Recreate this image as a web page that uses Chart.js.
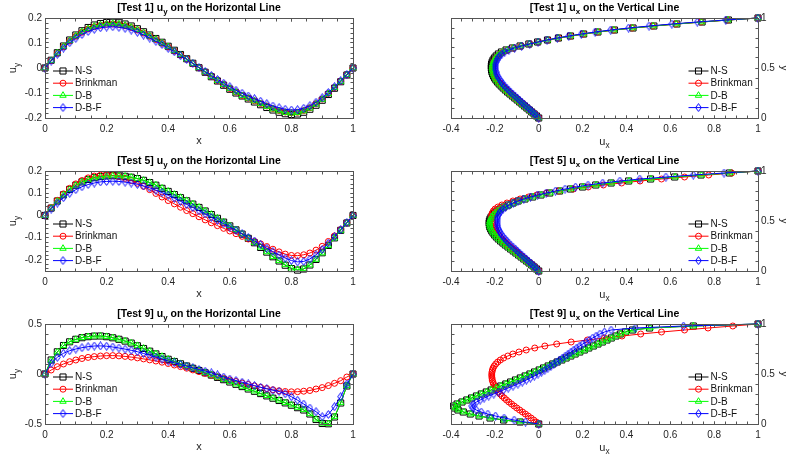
<!DOCTYPE html>
<html>
<head>
<meta charset="utf-8">
<script src="https://cdn.jsdelivr.net/npm/chart.js@4.4.1/dist/chart.umd.min.js"></script>
<style>
  html, body { margin: 0; padding: 0; background: #ffffff; }
  #wrap { position: relative; width: 786px; height: 459px; overflow: hidden; }
  #wrap canvas { position: absolute; }
</style>
</head>
<body>
<div id="wrap"></div>
<script>
// Sampling stations along the centre lines (x on the horizontal line, y on the vertical line)
const stations = [0,0.02,0.04,0.06,0.08,0.1,0.12,0.14,0.16,0.18,0.2,0.22,0.24,0.26,0.28,0.3,0.32,0.34,0.36,0.38,0.4,0.42,0.44,0.46,0.48,0.5,0.52,0.54,0.56,0.58,0.6,0.62,0.64,0.66,0.68,0.7,0.72,0.74,0.76,0.78,0.8,0.82,0.84,0.86,0.88,0.9,0.92,0.94,0.96,0.98,1];

const modelNames = ['N-S', 'Brinkman', 'D-B', 'D-B-F'];

// ---- Test 1: u_y on the horizontal line ----
const t1UyNS = [0,0.031,0.061,0.088,0.112,0.132,0.149,0.162,0.172,0.178,0.182,0.183,0.181,0.176,0.168,0.157,0.145,0.132,0.118,0.103,0.087,0.071,0.054,0.037,0.019,0.001,-0.017,-0.035,-0.052,-0.069,-0.085,-0.100,-0.112,-0.124,-0.136,-0.147,-0.158,-0.168,-0.177,-0.183,-0.186,-0.184,-0.177,-0.165,-0.149,-0.129,-0.106,-0.081,-0.055,-0.028,0];
const t1UyBrink = [0,0.030,0.059,0.085,0.108,0.127,0.143,0.156,0.165,0.171,0.175,0.176,0.174,0.169,0.162,0.152,0.140,0.127,0.114,0.099,0.084,0.068,0.052,0.036,0.018,0.001,-0.016,-0.033,-0.050,-0.066,-0.082,-0.096,-0.110,-0.120,-0.131,-0.142,-0.152,-0.162,-0.170,-0.176,-0.179,-0.177,-0.170,-0.159,-0.143,-0.124,-0.102,-0.078,-0.053,-0.027,0];
const t1UyDB = [0,0.030,0.060,0.086,0.109,0.128,0.145,0.157,0.167,0.173,0.177,0.178,0.176,0.171,0.163,0.153,0.141,0.128,0.115,0.100,0.085,0.069,0.053,0.036,0.018,0.001,-0.016,-0.034,-0.051,-0.067,-0.082,-0.097,-0.111,-0.121,-0.132,-0.143,-0.154,-0.164,-0.172,-0.178,-0.181,-0.179,-0.172,-0.161,-0.145,-0.126,-0.103,-0.079,-0.054,-0.027,0];
const t1UyDBF = [0,0.028,0.055,0.080,0.101,0.119,0.134,0.146,0.155,0.161,0.164,0.165,0.163,0.159,0.152,0.143,0.132,0.120,0.107,0.094,0.079,0.065,0.049,0.034,0.018,0.002,-0.014,-0.030,-0.046,-0.061,-0.075,-0.089,-0.101,-0.112,-0.123,-0.133,-0.143,-0.152,-0.159,-0.165,-0.168,-0.167,-0.161,-0.151,-0.137,-0.119,-0.098,-0.075,-0.051,-0.026,0];

// ---- Test 1: u_x on the vertical line ----
const t1UxNS = [0,-0.010,-0.021,-0.032,-0.043,-0.054,-0.065,-0.076,-0.087,-0.098,-0.109,-0.120,-0.131,-0.142,-0.152,-0.162,-0.171,-0.180,-0.188,-0.195,-0.201,-0.206,-0.210,-0.213,-0.215,-0.216,-0.216,-0.215,-0.212,-0.208,-0.202,-0.194,-0.184,-0.170,-0.149,-0.120,-0.085,-0.045,-0.005,0.040,0.090,0.145,0.205,0.270,0.345,0.430,0.525,0.630,0.745,0.865,1];
const t1UxBrink = [0,-0.010,-0.020,-0.031,-0.042,-0.052,-0.063,-0.074,-0.085,-0.095,-0.106,-0.117,-0.127,-0.138,-0.148,-0.157,-0.166,-0.175,-0.182,-0.189,-0.195,-0.200,-0.204,-0.206,-0.208,-0.209,-0.208,-0.207,-0.204,-0.200,-0.194,-0.186,-0.176,-0.162,-0.142,-0.114,-0.080,-0.041,-0.002,0.042,0.091,0.145,0.204,0.268,0.342,0.426,0.520,0.625,0.740,0.862,1];
const t1UxDB = [0,-0.010,-0.020,-0.031,-0.042,-0.053,-0.064,-0.075,-0.086,-0.096,-0.107,-0.118,-0.129,-0.140,-0.150,-0.159,-0.168,-0.177,-0.185,-0.192,-0.198,-0.203,-0.207,-0.209,-0.211,-0.212,-0.211,-0.210,-0.207,-0.203,-0.197,-0.189,-0.179,-0.165,-0.145,-0.117,-0.082,-0.043,-0.003,0.041,0.090,0.145,0.204,0.269,0.343,0.428,0.522,0.627,0.742,0.863,1];
const t1UxDBF = [0,-0.009,-0.018,-0.028,-0.038,-0.048,-0.058,-0.068,-0.078,-0.088,-0.098,-0.108,-0.118,-0.128,-0.137,-0.146,-0.155,-0.163,-0.170,-0.176,-0.182,-0.187,-0.191,-0.194,-0.196,-0.197,-0.197,-0.196,-0.194,-0.190,-0.185,-0.178,-0.168,-0.155,-0.136,-0.110,-0.078,-0.041,-0.003,0.038,0.085,0.137,0.194,0.257,0.328,0.410,0.503,0.607,0.723,0.853,1];

// ---- Test 5: u_y on the horizontal line ----
const t5UyNS = [0,0.033,0.065,0.093,0.117,0.136,0.151,0.162,0.170,0.175,0.178,0.179,0.178,0.176,0.172,0.166,0.158,0.148,0.136,0.122,0.108,0.094,0.080,0.066,0.051,0.036,0.020,0.004,-0.013,-0.030,-0.047,-0.065,-0.084,-0.103,-0.123,-0.144,-0.165,-0.186,-0.205,-0.224,-0.239,-0.246,-0.241,-0.223,-0.198,-0.168,-0.135,-0.101,-0.067,-0.034,0];
const t5UyBrink = [0,0.035,0.068,0.097,0.122,0.142,0.157,0.169,0.177,0.181,0.182,0.180,0.175,0.167,0.157,0.145,0.131,0.116,0.099,0.083,0.067,0.052,0.037,0.022,0.008,-0.006,-0.020,-0.033,-0.046,-0.058,-0.070,-0.082,-0.094,-0.106,-0.117,-0.128,-0.140,-0.152,-0.164,-0.174,-0.180,-0.181,-0.177,-0.169,-0.156,-0.139,-0.117,-0.092,-0.064,-0.033,0];
const t5UyDB = [0,0.033,0.064,0.092,0.116,0.135,0.150,0.161,0.169,0.174,0.177,0.178,0.178,0.176,0.172,0.166,0.158,0.148,0.137,0.123,0.109,0.095,0.081,0.067,0.052,0.037,0.021,0.005,-0.012,-0.029,-0.046,-0.064,-0.083,-0.102,-0.122,-0.143,-0.164,-0.185,-0.204,-0.222,-0.237,-0.244,-0.240,-0.223,-0.198,-0.169,-0.136,-0.102,-0.068,-0.034,0];
const t5UyDBF = [0,0.029,0.056,0.080,0.100,0.116,0.129,0.139,0.146,0.151,0.153,0.154,0.153,0.150,0.146,0.140,0.133,0.124,0.114,0.103,0.091,0.078,0.064,0.050,0.036,0.021,0.007,-0.008,-0.022,-0.037,-0.052,-0.067,-0.083,-0.099,-0.115,-0.131,-0.147,-0.163,-0.178,-0.192,-0.203,-0.209,-0.207,-0.196,-0.177,-0.153,-0.125,-0.095,-0.064,-0.032,0];

// ---- Test 5: u_x on the vertical line ----
const t5UxNS = [0,-0.010,-0.021,-0.032,-0.044,-0.056,-0.068,-0.080,-0.092,-0.104,-0.116,-0.128,-0.140,-0.152,-0.163,-0.174,-0.184,-0.193,-0.201,-0.208,-0.214,-0.219,-0.223,-0.225,-0.226,-0.225,-0.222,-0.217,-0.210,-0.201,-0.190,-0.176,-0.159,-0.139,-0.117,-0.094,-0.063,-0.028,0.010,0.050,0.095,0.145,0.200,0.260,0.330,0.410,0.510,0.620,0.740,0.870,1];
const t5UxBrink = [0,-0.010,-0.020,-0.030,-0.041,-0.052,-0.063,-0.074,-0.085,-0.096,-0.107,-0.118,-0.129,-0.139,-0.149,-0.158,-0.167,-0.175,-0.182,-0.189,-0.195,-0.200,-0.204,-0.207,-0.210,-0.211,-0.213,-0.214,-0.214,-0.212,-0.207,-0.199,-0.186,-0.168,-0.145,-0.118,-0.085,-0.047,-0.009,0.036,0.092,0.158,0.226,0.295,0.378,0.462,0.560,0.665,0.775,0.880,1];
const t5UxDB = [0,-0.010,-0.021,-0.032,-0.043,-0.055,-0.067,-0.079,-0.091,-0.103,-0.115,-0.127,-0.139,-0.150,-0.161,-0.172,-0.182,-0.191,-0.199,-0.206,-0.212,-0.217,-0.221,-0.223,-0.224,-0.223,-0.220,-0.215,-0.208,-0.199,-0.188,-0.174,-0.157,-0.137,-0.115,-0.092,-0.061,-0.026,0.012,0.052,0.097,0.147,0.202,0.262,0.332,0.412,0.512,0.622,0.742,0.872,1];
const t5UxDBF = [0,-0.009,-0.018,-0.027,-0.037,-0.047,-0.057,-0.067,-0.077,-0.087,-0.097,-0.107,-0.117,-0.127,-0.136,-0.145,-0.153,-0.161,-0.168,-0.174,-0.179,-0.183,-0.186,-0.188,-0.189,-0.190,-0.189,-0.187,-0.184,-0.179,-0.172,-0.163,-0.151,-0.135,-0.116,-0.095,-0.068,-0.038,-0.005,0.034,0.076,0.120,0.168,0.225,0.292,0.370,0.461,0.580,0.705,0.845,1];

// ---- Test 9: u_y on the horizontal line ----
const t9UyNS = [0,0.140,0.222,0.285,0.322,0.347,0.363,0.373,0.379,0.380,0.373,0.362,0.347,0.329,0.309,0.282,0.255,0.228,0.201,0.174,0.147,0.125,0.102,0.080,0.057,0.035,0.012,-0.011,-0.034,-0.057,-0.080,-0.103,-0.126,-0.150,-0.173,-0.196,-0.219,-0.242,-0.265,-0.289,-0.312,-0.337,-0.360,-0.400,-0.455,-0.495,-0.498,-0.430,-0.290,-0.120,0];
const t9UyBrink = [0,0.040,0.073,0.100,0.123,0.140,0.155,0.166,0.174,0.180,0.183,0.184,0.181,0.176,0.169,0.161,0.151,0.141,0.130,0.118,0.105,0.090,0.074,0.058,0.041,0.024,0.006,-0.010,-0.027,-0.044,-0.060,-0.075,-0.090,-0.105,-0.119,-0.133,-0.146,-0.158,-0.168,-0.175,-0.178,-0.177,-0.172,-0.165,-0.150,-0.136,-0.116,-0.093,-0.067,-0.030,0];
const t9UyDB = [0,0.138,0.220,0.283,0.321,0.346,0.363,0.373,0.379,0.380,0.374,0.363,0.348,0.330,0.310,0.284,0.257,0.230,0.203,0.176,0.149,0.127,0.104,0.082,0.059,0.037,0.014,-0.009,-0.032,-0.055,-0.078,-0.101,-0.124,-0.148,-0.171,-0.194,-0.217,-0.240,-0.263,-0.287,-0.310,-0.335,-0.358,-0.398,-0.452,-0.493,-0.497,-0.428,-0.288,-0.118,0];
const t9UyDBF = [0,0.107,0.167,0.207,0.233,0.250,0.263,0.273,0.280,0.281,0.278,0.270,0.260,0.249,0.237,0.223,0.205,0.187,0.169,0.150,0.130,0.112,0.095,0.079,0.062,0.045,0.028,0.011,-0.009,-0.030,-0.050,-0.066,-0.082,-0.099,-0.116,-0.133,-0.148,-0.162,-0.175,-0.198,-0.227,-0.262,-0.300,-0.340,-0.377,-0.427,-0.405,-0.327,-0.227,-0.100,0];

// ---- Test 9: u_x on the vertical line ----
const t9UxNS = [0,-0.085,-0.160,-0.222,-0.272,-0.312,-0.344,-0.368,-0.383,-0.388,-0.372,-0.350,-0.328,-0.306,-0.284,-0.262,-0.239,-0.217,-0.195,-0.173,-0.150,-0.128,-0.106,-0.084,-0.062,-0.040,-0.019,0.002,0.022,0.043,0.064,0.084,0.105,0.125,0.146,0.166,0.187,0.208,0.228,0.249,0.270,0.290,0.311,0.331,0.352,0.372,0.395,0.428,0.505,0.705,1];
const t9UxBrink = [0,-0.011,-0.023,-0.035,-0.048,-0.061,-0.074,-0.087,-0.100,-0.112,-0.124,-0.136,-0.147,-0.157,-0.167,-0.176,-0.184,-0.191,-0.197,-0.202,-0.206,-0.209,-0.212,-0.213,-0.214,-0.214,-0.213,-0.211,-0.208,-0.203,-0.196,-0.187,-0.175,-0.160,-0.141,-0.118,-0.090,-0.057,-0.018,0.028,0.082,0.148,0.222,0.300,0.380,0.465,0.560,0.665,0.772,0.885,1];
const t9UxDB = [0,-0.083,-0.157,-0.219,-0.269,-0.309,-0.341,-0.365,-0.380,-0.386,-0.371,-0.349,-0.327,-0.305,-0.283,-0.261,-0.238,-0.216,-0.194,-0.172,-0.149,-0.127,-0.105,-0.083,-0.061,-0.039,-0.018,0.003,0.023,0.044,0.065,0.085,0.106,0.126,0.147,0.167,0.188,0.209,0.229,0.250,0.271,0.291,0.312,0.333,0.354,0.374,0.398,0.432,0.508,0.705,1];
const t9UxDBF = [0,-0.060,-0.112,-0.158,-0.197,-0.232,-0.262,-0.285,-0.300,-0.305,-0.298,-0.284,-0.267,-0.249,-0.228,-0.205,-0.183,-0.161,-0.139,-0.117,-0.095,-0.075,-0.056,-0.038,-0.020,-0.003,0.013,0.028,0.042,0.056,0.069,0.082,0.095,0.108,0.121,0.134,0.147,0.160,0.173,0.187,0.201,0.216,0.231,0.246,0.262,0.279,0.300,0.330,0.440,0.660,1];

// Tick labels
const xTicksH = [0, 0.2, 0.4, 0.6, 0.8, 1];
const uyTicksSmall = [-0.2, -0.1, 0, 0.1, 0.2];
const uyTicksLarge = [-0.5, 0, 0.5];
const uxTicksV = [-0.4, -0.2, 0, 0.2, 0.4, 0.6, 0.8, 1];
const yTicksV = [0, 0.5, 1];

const FONT = "'Liberation Sans', Arial, Helvetica, sans-serif";
const INK = '#262626';
const FRAME = '#555555';

// Open diamond marker, a little narrower than it is tall
function makeDiamond(color) {
  const c = document.createElement('canvas');
  c.width = 7; c.height = 9;
  const g = c.getContext('2d');
  g.strokeStyle = color; g.lineWidth = 1;
  g.beginPath();
  g.moveTo(3.5, 0.6); g.lineTo(6.3, 4.5); g.lineTo(3.5, 8.4); g.lineTo(0.7, 4.5);
  g.closePath(); g.stroke();
  return c;
}

const markerStyles = [
  { color: '#000000', shape: 'rect', radius: 4.3 },
  { color: '#ff0000', shape: 'circle', radius: 3.0 },
  { color: '#00ff00', shape: 'triangle', radius: 3.7 },
  { color: '#0000ff', shape: makeDiamond('#0000ff'), radius: 3.5 }
];

function fmtTick(v) {
  if (Math.abs(v) < 1e-9) return '0';
  return String(parseFloat(v.toFixed(2)));
}

function drawRich(ctx, parts, x, y, size, weight) {
  const main = weight + ' ' + size + 'px ' + FONT;
  const sub = weight + ' ' + (size * 0.75).toFixed(1) + 'px ' + FONT;
  let w = 0;
  parts.forEach((t, i) => { ctx.font = i % 2 ? sub : main; w += ctx.measureText(t).width; });
  let cx = x - w / 2;
  ctx.textAlign = 'left';
  ctx.textBaseline = 'alphabetic';
  parts.forEach((t, i) => {
    ctx.font = i % 2 ? sub : main;
    ctx.fillText(t, cx, y + (i % 2 ? size * 0.32 : 0));
    cx += ctx.measureText(t).width;
  });
}

function drawMarker(ctx, st, x, y) {
  ctx.strokeStyle = st.color;
  ctx.lineWidth = 1;
  if (typeof st.shape !== 'string') {
    ctx.drawImage(st.shape, x - st.shape.width / 2, y - st.shape.height / 2);
    return;
  }
  ctx.beginPath();
  if (st.shape === 'rect') {
    const s = st.radius * Math.SQRT1_2;
    ctx.rect(x - s, y - s, 2 * s, 2 * s);
  } else if (st.shape === 'circle') {
    ctx.arc(x, y, st.radius, 0, Math.PI * 2);
  } else {
    for (let k = 0; k < 3; k++) {
      const a = k * 2 * Math.PI / 3;
      const px = x + Math.sin(a) * st.radius, py = y - Math.cos(a) * st.radius;
      if (k === 0) ctx.moveTo(px, py); else ctx.lineTo(px, py);
    }
    ctx.closePath();
  }
  ctx.stroke();
}

const panels = [
  { row: 0, col: 0, kind: 'h', title: ['[Test 1] u', 'y', ' on the Horizontal Line'],
    yMin: -0.2, yMax: 0.2, yTicks: uyTicksSmall, yMinor: 0.02,
    series: [t1UyNS, t1UyBrink, t1UyDB, t1UyDBF] },
  { row: 0, col: 1, kind: 'v', title: ['[Test 1] u', 'x', ' on the Vertical Line'],
    series: [t1UxNS, t1UxBrink, t1UxDB, t1UxDBF] },
  { row: 1, col: 0, kind: 'h', title: ['[Test 5] u', 'y', ' on the Horizontal Line'],
    yMin: -0.25, yMax: 0.2, yTicks: uyTicksSmall, yMinor: 0.02,
    series: [t5UyNS, t5UyBrink, t5UyDB, t5UyDBF] },
  { row: 1, col: 1, kind: 'v', title: ['[Test 5] u', 'x', ' on the Vertical Line'],
    series: [t5UxNS, t5UxBrink, t5UxDB, t5UxDBF] },
  { row: 2, col: 0, kind: 'h', title: ['[Test 9] u', 'y', ' on the Horizontal Line'],
    yMin: -0.5, yMax: 0.5, yTicks: uyTicksLarge, yMinor: 0.1,
    series: [t9UyNS, t9UyBrink, t9UyDB, t9UyDBF] },
  { row: 2, col: 1, kind: 'v', title: ['[Test 9] u', 'x', ' on the Vertical Line'],
    series: [t9UxNS, t9UxBrink, t9UxDB, t9UxDBF] }
];

const CW = 393, CH = 153;

function minorValues(min, max, step) {
  const out = [];
  const n0 = Math.ceil(min / step - 1e-6), n1 = Math.floor(max / step + 1e-6);
  for (let n = n0; n <= n1; n++) out.push(n * step);
  return out;
}

function makeDecor(p) {
  return {
    id: 'decor',
    afterDatasetsDraw(chart) {
      const { ctx, chartArea: a } = chart;
      const sx = chart.scales.x, sy = chart.scales.y;
      const L = Math.floor(a.left) + 0.5, R = Math.floor(a.right) + 0.5;
      const T = Math.floor(a.top) + 0.5, B = Math.floor(a.bottom) + 0.5;
      ctx.save();
      // axes box
      ctx.strokeStyle = FRAME; ctx.lineWidth = 1;
      ctx.strokeRect(L, T, R - L, B - T);
      // inward tick marks on all four sides
      const tl = 3;
      ctx.beginPath();
      const xs = minorValues(sx.min, sx.max, p.xMinor).concat(p.xTicks);
      const ys = minorValues(sy.min, sy.max, p.yMinor).concat(p.yTicks);
      xs.forEach(v => {
        const px = Math.floor(sx.getPixelForValue(v)) + 0.5;
        ctx.moveTo(px, B); ctx.lineTo(px, B - tl);
        ctx.moveTo(px, T); ctx.lineTo(px, T + tl);
      });
      ys.forEach(v => {
        const py = Math.floor(sy.getPixelForValue(v)) + 0.5;
        ctx.moveTo(L, py); ctx.lineTo(L + tl, py);
        ctx.moveTo(R, py); ctx.lineTo(R - tl, py);
      });
      ctx.stroke();

      // legend inside the axes
      const lx = p.kind === 'h' ? a.left + 8 : a.left + 237.5;
      chart.data.datasets.forEach((ds, i) => {
        const st = markerStyles[i];
        const yy = a.top + 53 + i * 12.2;
        ctx.strokeStyle = st.color; ctx.lineWidth = 1;
        ctx.beginPath(); ctx.moveTo(lx, yy); ctx.lineTo(lx + 20, yy); ctx.stroke();
        drawMarker(ctx, st, lx + 10, yy);
        ctx.fillStyle = '#111111';
        ctx.font = '10px ' + FONT;
        ctx.textAlign = 'left'; ctx.textBaseline = 'middle';
        ctx.fillText(modelNames[i], lx + 22, yy + 0.5);
      });

      // title and axis titles
      const midX = (a.left + a.right) / 2, midY = (a.top + a.bottom) / 2;
      ctx.fillStyle = '#000000';
      drawRich(ctx, p.title, midX, 11, 10.5, 'bold');
      ctx.fillStyle = INK;
      if (p.kind === 'h') {
        drawRich(ctx, ['x'], midX, 144, 11, 'normal');
        ctx.save();
        ctx.translate(16, midY);
        ctx.rotate(-Math.PI / 2);
        drawRich(ctx, ['u', 'y'], 0, 0, 11, 'normal');
        ctx.restore();
      } else {
        drawRich(ctx, ['u', 'x'], midX, 144.5, 11, 'normal');
        ctx.save();
        ctx.translate(CW - 5.5, midY);
        ctx.rotate(Math.PI / 2);
        drawRich(ctx, ['y'], 0, 0, 11, 'normal');
        ctx.restore();
      }
      ctx.restore();
    }
  };
}

function axisCfg(min, max, ticks, position, fit, pad) {
  return {
    type: 'linear', min: min, max: max, position: position,
    grid: { display: false, drawTicks: false },
    border: { display: false },
    ticks: {
      color: INK, font: { family: FONT, size: 10 }, padding: pad,
      autoSkip: false, maxRotation: 0, minRotation: 0,
      callback: (v) => fmtTick(v)
    },
    afterBuildTicks: (s) => { s.ticks = ticks.map(v => ({ value: v })); },
    afterFit: fit
  };
}

const wrap = document.getElementById('wrap');

panels.forEach(p => {
  const canvas = document.createElement('canvas');
  canvas.width = CW; canvas.height = CH;
  canvas.style.left = (p.col * CW) + 'px';
  canvas.style.top = (p.row * CH) + 'px';
  canvas.style.width = CW + 'px';
  canvas.style.height = CH + 'px';
  wrap.appendChild(canvas);

  const horizontal = p.kind === 'h';
  if (horizontal) {
    p.xTicks = xTicksH; p.xMinor = 0.05;
  } else {
    p.xTicks = uxTicksV; p.xMinor = 0.05;
    p.yTicks = yTicksV; p.yMinor = 0.1;
  }

  const datasets = p.series.map((vals, i) => {
    const st = markerStyles[i];
    return {
      label: modelNames[i],
      data: stations.map((s, k) => horizontal ? { x: s, y: vals[k] } : { x: vals[k], y: s }),
      showLine: true,
      borderColor: st.color,
      borderWidth: 1,
      backgroundColor: 'rgba(0,0,0,0)',
      pointBackgroundColor: 'rgba(0,0,0,0)',
      pointBorderColor: st.color,
      pointBorderWidth: 1,
      pointStyle: st.shape,
      pointRadius: st.radius,
      pointHoverRadius: st.radius,
      tension: 0,
      clip: false,
      order: 4 - i
    };
  });

  const scales = horizontal ? {
    x: axisCfg(0, 1, p.xTicks, 'bottom', s => { s.height = 35; }, 5),
    y: axisCfg(p.yMin, p.yMax, p.yTicks, 'left', s => { s.width = 45; }, 3)
  } : {
    x: axisCfg(-0.4, 1, p.xTicks, 'bottom', s => { s.height = 35; }, 5),
    y: axisCfg(0, 1, p.yTicks, 'right', s => { s.width = 28; }, 3)
  };

  new Chart(canvas, {
    type: 'scatter',
    data: { datasets: datasets },
    options: {
      responsive: false,
      animation: false,
      devicePixelRatio: 1,
      events: [],
      layout: { padding: horizontal ? { top: 18, left: 0, right: 40, bottom: 0 } : { top: 18, left: 58, right: 0, bottom: 0 } },
      plugins: { legend: { display: false }, tooltip: { enabled: false }, title: { display: false } },
      scales: scales
    },
    plugins: [makeDecor(p)]
  });
});
</script>
</body>
</html>
